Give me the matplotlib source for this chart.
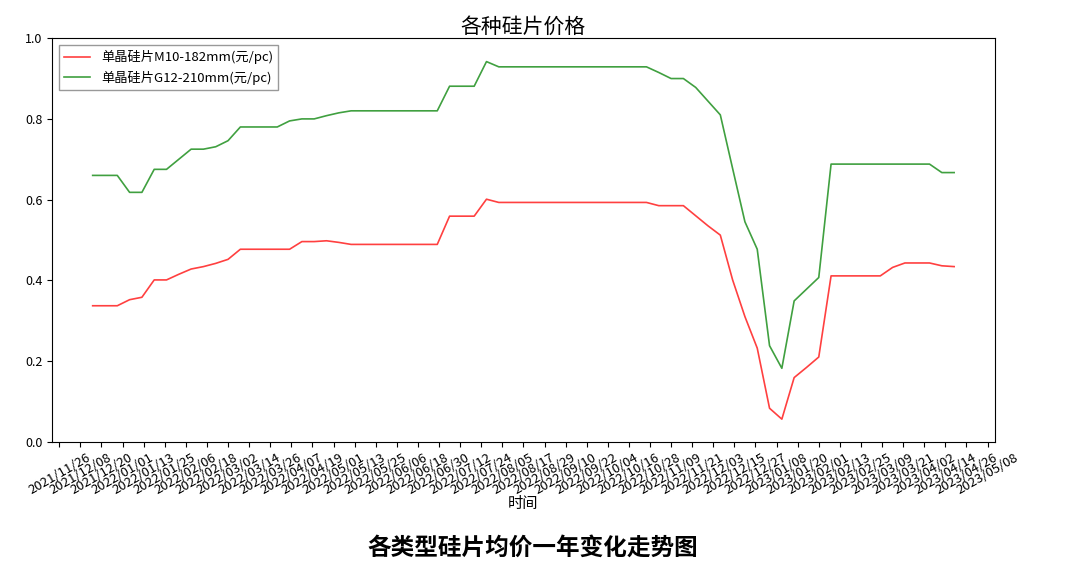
import matplotlib
matplotlib.use('Agg')
import matplotlib.pyplot as plt
import matplotlib.dates as mdates
import pandas as pd

plt.rcParams['font.family'] = ['Noto Sans CJK SC', 'DejaVu Sans']
plt.rcParams['axes.unicode_minus'] = False

# weekly prices
dates = pd.date_range('2021-12-15', periods=71, freq='7D')
m10 = [0.337, 0.337, 0.337, 0.352, 0.358, 0.401, 0.401, 0.415, 0.428, 0.434,
       0.442, 0.452, 0.477, 0.477, 0.477, 0.477, 0.477, 0.496, 0.496, 0.498,
       0.494, 0.489, 0.489, 0.489, 0.489, 0.489, 0.489, 0.489, 0.489, 0.559,
       0.559, 0.559, 0.601, 0.593, 0.593, 0.593, 0.593, 0.593, 0.593, 0.593,
       0.593, 0.593, 0.593, 0.593, 0.593, 0.593, 0.585, 0.585, 0.585, 0.560,
       0.535, 0.512, 0.401, 0.310, 0.232, 0.083, 0.056, 0.159, 0.184, 0.210,
       0.411, 0.411, 0.411, 0.411, 0.411, 0.432, 0.443, 0.443, 0.443, 0.436,
       0.434]
g12 = [0.660, 0.660, 0.660, 0.618, 0.618, 0.675, 0.675, 0.700, 0.725, 0.725,
       0.731, 0.746, 0.780, 0.780, 0.780, 0.780, 0.795, 0.800, 0.800, 0.808,
       0.815, 0.820, 0.820, 0.820, 0.820, 0.820, 0.820, 0.820, 0.820, 0.881,
       0.881, 0.881, 0.942, 0.929, 0.929, 0.929, 0.929, 0.929, 0.929, 0.929,
       0.929, 0.929, 0.929, 0.929, 0.929, 0.929, 0.915, 0.900, 0.900, 0.878,
       0.844, 0.810, 0.677, 0.545, 0.477, 0.238, 0.182, 0.349, 0.378, 0.407,
       0.688, 0.688, 0.688, 0.688, 0.688, 0.688, 0.688, 0.688, 0.688, 0.667,
       0.667]
tick_dates = pd.date_range('2021-11-26', '2023-05-08', freq='12D')

fig = plt.figure(figsize=(10.66, 5.7), dpi=100)
ax = fig.add_axes([0.049, 0.225, 0.884, 0.708])
ax.plot(dates, m10, color='red', alpha=0.75, lw=1.2, label='单晶硅片M10-182mm(元/pc)')
ax.plot(dates, g12, color='green', alpha=0.75, lw=1.2, label='单晶硅片G12-210mm(元/pc)')

ax.set_ylim(0, 1.0)
ax.set_xlim(pd.Timestamp('2021-11-22'), pd.Timestamp('2023-05-12'))
ax.set_xticks(tick_dates)
ax.xaxis.set_major_formatter(mdates.DateFormatter('%Y/%m/%d'))
plt.setp(ax.get_xticklabels(), rotation=30, fontsize=9.5)
ax.tick_params(axis='y', labelsize=9)
ax.set_xlabel('时间', fontsize=11, labelpad=-2)
ax.set_title('各种硅片价格', fontsize=15, pad=4)
ax.legend(loc='upper left', fontsize=9.5, fancybox=False, edgecolor='gray')

fig.text(0.5, 0.04, '各类型硅片均价一年变化走势图', ha='center', va='center',
         fontsize=17, fontweight='bold')

fig.savefig('out.png', dpi=100)
